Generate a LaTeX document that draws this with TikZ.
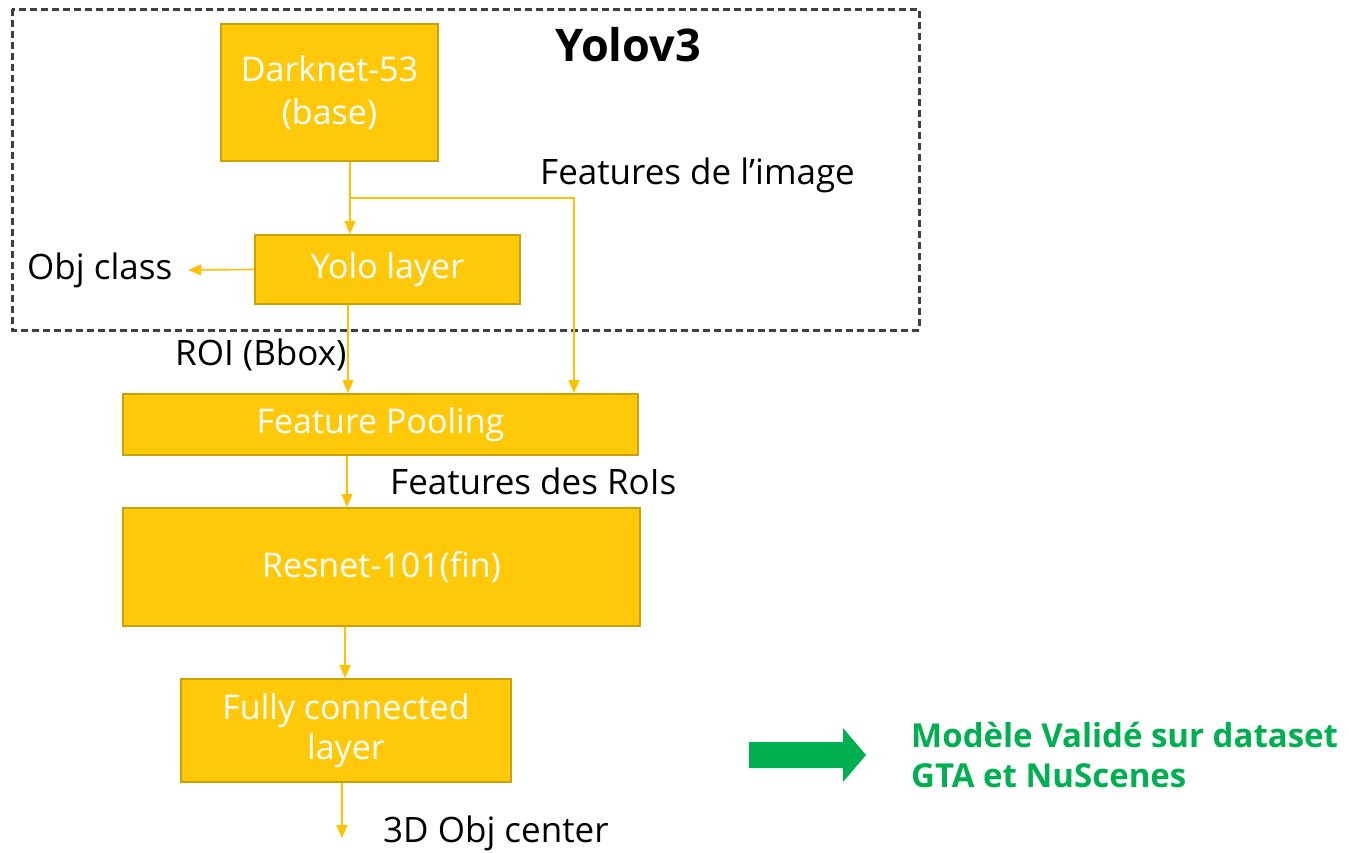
\documentclass[tikz,border=0pt]{standalone}
\usepackage{fontspec}
\setmainfont{Open Sans}
\usetikzlibrary{arrows.meta}

\definecolor{boxfill}{HTML}{FFC90A}
\definecolor{boxline}{HTML}{C9A206}
\definecolor{flowcol}{HTML}{FFC000}
\definecolor{framecol}{HTML}{404040}
\definecolor{okgreen}{HTML}{00B050}

\tikzset{
  block/.style={draw=boxline, line width=2pt, fill=boxfill, text=white, align=center,
    inner sep=0pt, font=\fontsize{34}{43}\selectfont},
  lbl/.style={anchor=west, inner sep=0pt, font=\fontsize{35}{40}\selectfont},
  flow/.style={draw=flowcol, line width=1.6pt, -{Triangle[width=11pt,length=13pt]}},
}

\begin{document}
\begin{tikzpicture}[x=1pt, y=-1pt]
    \useasboundingbox (0,0) rectangle (1349,852);
    % Yolov3 frame
    \draw[framecol, line width=3pt, dash pattern=on 7pt off 4pt] (12,9) rectangle (919,330);
    \node[font=\fontsize{45}{50}\selectfont\bfseries, inner sep=0pt] (yolov3) at (628,45) {Yolov3};

    \node[block, minimum width=217pt, minimum height=137pt] (darknet) at (329.5,92.5) {Darknet-53\\(base)};
    \node[block, minimum width=265pt, minimum height=69pt] (yolo) at (387.5,269.5) {Yolo layer};
    \node[block, minimum width=515pt, minimum height=61pt] (pool) at (380.5,424.5) {Feature Pooling};
    \node[block, minimum width=517pt, minimum height=118pt] (resnet) at (381.5,567) {Resnet-101(fin)};
    \node[block, minimum width=330pt, minimum height=103pt, font=\fontsize{34}{40}\selectfont] (fc) at (346,730.5) {Fully connected\\layer};

    \node[lbl] (featimg) at (540,175) {Features de l’image};
    \node[lbl] (objclass) at (27,270) {Obj class};
    \node[lbl] (roi) at (175,355) {ROI (Bbox)};
    \node[lbl] (featroi) at (390,481) {Features des RoIs};
    \node[lbl] (objcenter) at (383,833) {3D Obj center};

    \coordinate (split) at (350,198);
    \coordinate (branch) at (574,198);
    \coordinate (out) at (342,838);

    \draw[flowcol, line width=1.6pt] (darknet.south -| split) -- (split);
    \draw[flow] (split) -- (yolo.north -| split);
    \draw[flow] (split) -- (branch) -- (pool.north -| branch);
    \draw[flow] (yolo.west) -- ([xshift=16pt]objclass.east);
    \draw[flow] (yolo.south -| 348,0) -- (pool.north -| 348,0);
    \draw[flow] (pool.south -| 347,0) -- (resnet.north -| 347,0);
    \draw[flow] (resnet.south -| 345,0) -- (fc.north -| 345,0);
    \draw[flow] (fc.south -| out) -- (out);

    % validation note
    \fill[okgreen] (749,742) -- (843,742) -- (843,728) -- (866,755) -- (843,782) -- (843,768) -- (749,768) -- cycle;
    \node[lbl, text=okgreen, align=left, font=\fontsize{33}{40}\selectfont\bfseries] (valid) at (911,755) {Modèle Validé sur dataset\\GTA et NuScenes};
\end{tikzpicture}
\end{document}
